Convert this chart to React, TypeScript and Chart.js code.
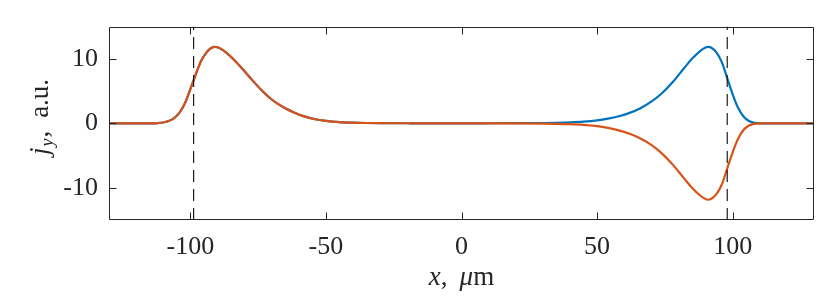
import React, { useEffect, useRef } from "react";
import { Chart, registerables } from "chart.js";

Chart.register(...registerables);

// ---- data ----
const xs = [-130, -115, -112, -110, -108, -106, -104, -102, -100, -98, -96, -94, -92, -91, -90, -88, -86, -84, -82, -80, -77, -74, -71, -68, -65, -62, -58, -54, -50, -45, -40, -35, -30, -20, -10, 0, 10, 20, 30, 35, 40, 45, 50, 54, 58, 62, 66, 70, 74, 78, 82, 85, 88, 90, 91, 92, 94, 96, 98, 100, 102, 104, 106, 108, 110, 115, 130];
const blueY = [0, 0, 0.03, 0.12, 0.35, 0.8, 1.65, 3.1, 5.3, 7.6, 9.7, 11.0, 11.75, 11.85, 11.8, 11.35, 10.7, 9.9, 9.0, 8.06, 6.62, 5.24, 4.04, 3.08, 2.33, 1.73, 1.07, 0.63, 0.37, 0.18, 0.09, 0.045, 0.02, 0.005, 0, 0, 0.005, 0.02, 0.05, 0.08, 0.14, 0.25, 0.45, 0.72, 1.1, 1.62, 2.35, 3.35, 4.7, 6.45, 8.5, 10.0, 11.2, 11.75, 11.85, 11.75, 11.0, 9.5, 7.0, 4.5, 2.4, 1.05, 0.35, 0.08, 0, 0, 0];
const orangeY = [0, 0, 0.03, 0.12, 0.35, 0.8, 1.65, 3.1, 5.3, 7.6, 9.7, 11.0, 11.75, 11.85, 11.8, 11.35, 10.7, 9.9, 9.0, 8.06, 6.62, 5.24, 4.04, 3.08, 2.33, 1.73, 1.07, 0.63, 0.37, 0.18, 0.09, 0.045, 0.02, 0.005, 0, 0, -0.005, -0.02, -0.05, -0.08, -0.14, -0.25, -0.45, -0.72, -1.1, -1.62, -2.35, -3.35, -4.7, -6.45, -8.5, -10.0, -11.2, -11.75, -11.85, -11.75, -11.0, -9.5, -7.0, -4.5, -2.4, -1.05, -0.35, -0.08, 0, 0, 0];
const boundaryX = [-98.8, 98];
const xTicks = [-100, -50, 0, 50, 100];
const yTicks = [-10, 0, 10];
const xRange = [-130, 130];
const yRange = [-15, 15];

const FONT = "'Liberation Serif', 'Times New Roman', serif";
const INK = "#262626";

type Piece = { t: string; font: string; dy?: number; gap?: number };

function drawPieces(ctx: CanvasRenderingContext2D, pieces: Piece[]) {
  let total = 0;
  const widths: number[] = [];
  for (const p of pieces) {
    ctx.font = p.font;
    const w = ctx.measureText(p.t).width;
    widths.push(w);
    total += w + (p.gap || 0);
  }
  let x = -total / 2;
  pieces.forEach((p, i) => {
    ctx.font = p.font;
    ctx.fillText(p.t, x, p.dy || 0);
    x += widths[i] + (p.gap || 0);
  });
}

const framePlugin = {
  id: "frame",
  afterDraw(chart: any) {
    const ctx: CanvasRenderingContext2D = chart.ctx;
    const a = chart.chartArea;
    const sx = chart.scales.x;
    const sy = chart.scales.y;
    ctx.save();
    ctx.strokeStyle = INK;
    ctx.lineWidth = 1;
    const L = Math.round(a.left) + 0.5;
    const R = Math.round(a.right) - 0.5;
    const T = Math.round(a.top) + 0.5;
    const B = Math.round(a.bottom) - 0.5;
    ctx.beginPath();
    ctx.rect(L, T, R - L, B - T);
    const tl = 7;
    for (const v of xTicks) {
      const px = Math.round(sx.getPixelForValue(v)) + 0.5;
      ctx.moveTo(px, B);
      ctx.lineTo(px, B - tl);
      ctx.moveTo(px, T);
      ctx.lineTo(px, T + tl);
    }
    for (const v of yTicks) {
      const py = Math.round(sy.getPixelForValue(v)) + 0.5;
      ctx.moveTo(L, py);
      ctx.lineTo(L + tl, py);
      ctx.moveTo(R, py);
      ctx.lineTo(R - tl, py);
    }
    ctx.stroke();

    ctx.fillStyle = INK;
    ctx.textBaseline = "alphabetic";
    ctx.textAlign = "left";
    // x title
    ctx.save();
    ctx.translate((a.left + a.right) / 2, 285);
    drawPieces(ctx, [
      { t: "x", font: `italic 27px ${FONT}` },
      { t: ",", font: `27px ${FONT}`, gap: 12 },
      { t: "μ", font: `italic 27px ${FONT}` },
      { t: "m", font: `27px ${FONT}` },
    ]);
    ctx.restore();
    // y title
    ctx.save();
    ctx.translate(48, 117);
    ctx.rotate(-Math.PI / 2);
    drawPieces(ctx, [
      { t: "j", font: `italic 27px ${FONT}`, gap: 1 },
      { t: "y", font: `italic 18px ${FONT}`, dy: 5, gap: 1 },
      { t: ",", font: `27px ${FONT}`, gap: 13 },
      { t: "a.u.", font: `27px ${FONT}` },
    ]);
    ctx.restore();
    ctx.restore();
  },
};

export default function App() {
  const ref = useRef<HTMLCanvasElement | null>(null);
  useEffect(() => {
    if (!ref.current) return;
    const pts = (ys: number[]) => xs.map((x, i) => ({ x, y: ys[i] }));
    const dashed = boundaryX.map((bx) => ({
      data: [
        { x: bx, y: yRange[0] },
        { x: bx, y: yRange[1] },
      ],
      borderColor: "#1a1a1a",
      borderWidth: 1.2,
      borderDash: [12, 7],
      pointRadius: 0,
      fill: false,
    }));
    const chart = new Chart(ref.current, {
      type: "line",
      data: {
        datasets: [
          ...dashed,
          {
            data: pts(orangeY),
            borderColor: "#D95319",
            borderWidth: 2.2,
            pointRadius: 0,
            cubicInterpolationMode: "monotone",
            fill: false,
          },
          {
            data: pts(blueY),
            borderColor: "#0072BD",
            borderWidth: 2.2,
            pointRadius: 0,
            cubicInterpolationMode: "monotone",
            fill: false,
          },
        ] as any,
      },
      options: {
        animation: false,
        responsive: false,
        events: [],
        layout: { padding: { top: 22, right: 16, left: 0, bottom: 0 } },
        plugins: { legend: { display: false }, tooltip: { enabled: false } },
        scales: {
          x: {
            type: "linear",
            min: xRange[0],
            max: xRange[1],
            grid: { display: false, drawTicks: false },
            border: { display: false },
            afterBuildTicks: (s: any) => {
              s.ticks = xTicks.map((v) => ({ value: v }));
            },
            afterFit: (s: any) => {
              s.height = 76;
            },
            ticks: {
              color: INK,
              font: { family: FONT, size: 26 },
              padding: 12,
              maxRotation: 0,
              autoSkip: false,
              callback: (v: any) => String(v),
            },
          },
          y: {
            type: "linear",
            min: yRange[0],
            max: yRange[1],
            grid: { display: false, drawTicks: false },
            border: { display: false },
            afterBuildTicks: (s: any) => {
              s.ticks = yTicks.map((v) => ({ value: v }));
            },
            afterFit: (s: any) => {
              s.width = 109;
            },
            ticks: {
              color: INK,
              font: { family: FONT, size: 26 },
              padding: 11,
              autoSkip: false,
              callback: (v: any) => String(v),
            },
          },
        },
      },
      plugins: [framePlugin],
    });
    return () => chart.destroy();
  }, []);
  return (
    <div style={{ position: "absolute", left: 0, top: 0, width: 830, height: 296, background: "#fff" }}>
      <canvas ref={ref} width={830} height={296} style={{ display: "block" }} />
    </div>
  );
}
